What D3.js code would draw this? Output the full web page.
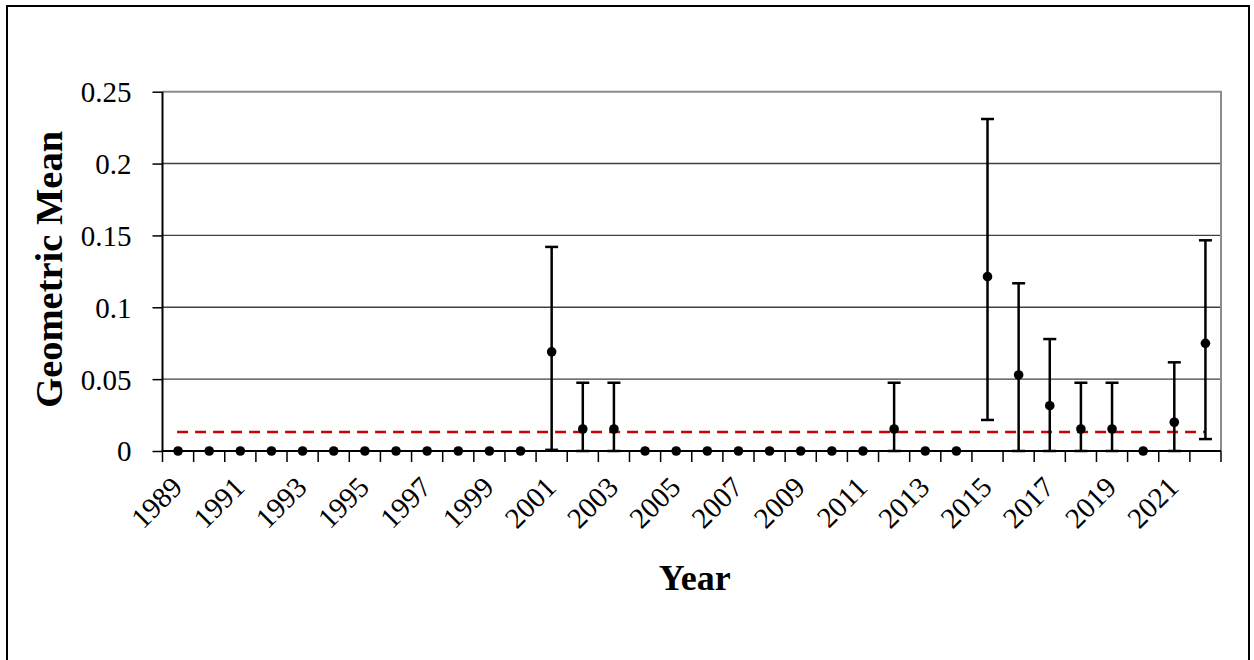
<!DOCTYPE html>
<html>
<head>
<meta charset="utf-8">
<script src="https://cdn.jsdelivr.net/npm/d3@7"></script>
<style>
  html, body { margin: 0; padding: 0; background: #fff; }
  svg { display: block; }
  text { font-family: "Liberation Serif", "Times New Roman", serif; fill: #000; }
</style>
</head>
<body>
<svg id="chart" width="1254" height="660"></svg>
<script>
// ---- data ----
const years = [1989,1990,1991,1992,1993,1994,1995,1996,1997,1998,1999,2000,
               2001,2002,2003,2004,2005,2006,2007,2008,2009,2010,2011,2012,
               2013,2014,2015,2016,2017,2018,2019,2020,2021,2022];
const geoMean = [0,0,0,0,0,0,0,0,0,0,0,0,
                 0.069,0.0153,0.0153,0,0,0,0,0,0,0,0,0.0153,
                 0,0,0.1213,0.0529,0.0315,0.0153,0.0153,0,0.020,0.0749];
const upperCI = [null,null,null,null,null,null,null,null,null,null,null,null,
                 0.142,0.0475,0.0475,null,null,null,null,null,null,null,null,0.0475,
                 null,null,0.231,0.1167,0.0779,0.0475,0.0475,null,0.0617,0.1466];
const lowerCI = [null,null,null,null,null,null,null,null,null,null,null,null,
                 0.0008,0,0,null,null,null,null,null,null,null,null,0,
                 null,null,0.0216,0,0,0,0,null,0,0.0083];
const threshold = 0.0132;
const yTicks = [0, 0.05, 0.1, 0.15, 0.2, 0.25];
const yTickLabels = ["0", "0.05", "0.1", "0.15", "0.2", "0.25"];
const xLabelYears = [1989,1991,1993,1995,1997,1999,2001,2003,2005,2007,2009,2011,2013,2015,2017,2019,2021];

// ---- layout ----
const svg = d3.select("#chart");
const L = 162.5, R = 1221, T = 91.7, B = 451;

const x = d3.scaleBand().domain(years).range([L, R]).padding(0);
const y = d3.scaleLinear().domain([0, 0.25]).range([B, T]);
const cx = d => x(d) + x.bandwidth() / 2;

// outer frame
svg.append("path")
  .attr("d", "M7,666 V6 H1249 V666")
  .attr("fill", "none").attr("stroke", "#000").attr("stroke-width", 2);

// gridlines
svg.append("g").selectAll("line")
  .data(yTicks.filter(v => v > 0 && v < 0.25))
  .join("line")
  .attr("x1", L).attr("x2", R)
  .attr("y1", d => y(d)).attr("y2", d => y(d))
  .attr("stroke", "#404040").attr("stroke-width", 1.4);

// plot border top & right (grey)
svg.append("path")
  .attr("d", `M${L},${y(0.25)} H${R} V${B}`)
  .attr("fill", "none").attr("stroke", "#8c8c8c").attr("stroke-width", 2);

// y axis
const yAxis = d3.axisLeft(y)
  .tickValues(yTicks)
  .tickFormat((d, i) => yTickLabels[i])
  .tickSize(10).tickPadding(21);
const gy = svg.append("g").attr("transform", `translate(${L},0)`).call(yAxis);
gy.attr("font-family", null).attr("font-size", null);
gy.select(".domain").attr("stroke", "#000").attr("stroke-width", 2)
  .attr("d", `M0,${T}V${B}`);
gy.selectAll(".tick line").attr("stroke", "#000").attr("stroke-width", 1.5);
gy.selectAll(".tick text")
  .style("font-family", "'Liberation Serif', serif")
  .style("font-size", "29px").attr("fill", "#000").attr("dy", "0.34em");

// x axis line
svg.append("line")
  .attr("x1", L).attr("x2", R).attr("y1", B).attr("y2", B)
  .attr("stroke", "#000").attr("stroke-width", 2);

// x ticks at category boundaries
const boundaries = years.map(d => x(d)).concat([x.range()[1]]);
svg.append("g").selectAll("line")
  .data(boundaries)
  .join("line")
  .attr("x1", d => d).attr("x2", d => d)
  .attr("y1", B).attr("y2", B + 11)
  .attr("stroke", "#000").attr("stroke-width", 1.5);

// x tick labels (rotated)
svg.append("g").selectAll("text")
  .data(xLabelYears)
  .join("text")
  .attr("transform", d => `translate(${cx(d) + 6},${B + 38}) rotate(-45)`)
  .attr("text-anchor", "end")
  .style("font-size", "29px")
  .text(d => d);

// axis titles
svg.append("text")
  .attr("x", (L + R) / 2 + 3).attr("y", 590)
  .attr("text-anchor", "middle")
  .style("font-size", "36px").style("font-weight", "bold")
  .text("Year");

svg.append("text")
  .attr("transform", `translate(62,${(T + B) / 2 - 2}) rotate(-90)`)
  .attr("text-anchor", "middle")
  .style("font-size", "38.5px").style("font-weight", "bold")
  .text("Geometric Mean");

// threshold dashed line
svg.append("line")
  .attr("x1", cx(years[0]) - 1).attr("x2", cx(years[years.length - 1]))
  .attr("y1", y(threshold)).attr("y2", y(threshold))
  .attr("stroke", "#cc0000").attr("stroke-width", 2.6)
  .attr("stroke-dasharray", "11,7");

// error bars
const eb = years.map((d, i) => ({ year: d, lo: lowerCI[i], hi: upperCI[i] }))
  .filter(d => d.hi !== null);
const cap = 6.5;
const gE = svg.append("g").attr("stroke", "#000").attr("stroke-width", 2.5);
gE.selectAll("line.v").data(eb).join("line").attr("class", "v")
  .attr("x1", d => cx(d.year)).attr("x2", d => cx(d.year))
  .attr("y1", d => y(d.lo)).attr("y2", d => y(d.hi));
gE.selectAll("line.hc").data(eb).join("line").attr("class", "hc")
  .attr("x1", d => cx(d.year) - cap).attr("x2", d => cx(d.year) + cap)
  .attr("y1", d => y(d.hi)).attr("y2", d => y(d.hi));
gE.selectAll("line.lc").data(eb).join("line").attr("class", "lc")
  .attr("x1", d => cx(d.year) - cap).attr("x2", d => cx(d.year) + cap)
  .attr("y1", d => y(d.lo)).attr("y2", d => y(d.lo));

// points
svg.append("g").selectAll("circle")
  .data(years.map((d, i) => ({ year: d, v: geoMean[i] })))
  .join("circle")
  .attr("cx", d => cx(d.year)).attr("cy", d => y(d.v))
  .attr("r", 4.8).attr("fill", "#000");
</script>
</body>
</html>
